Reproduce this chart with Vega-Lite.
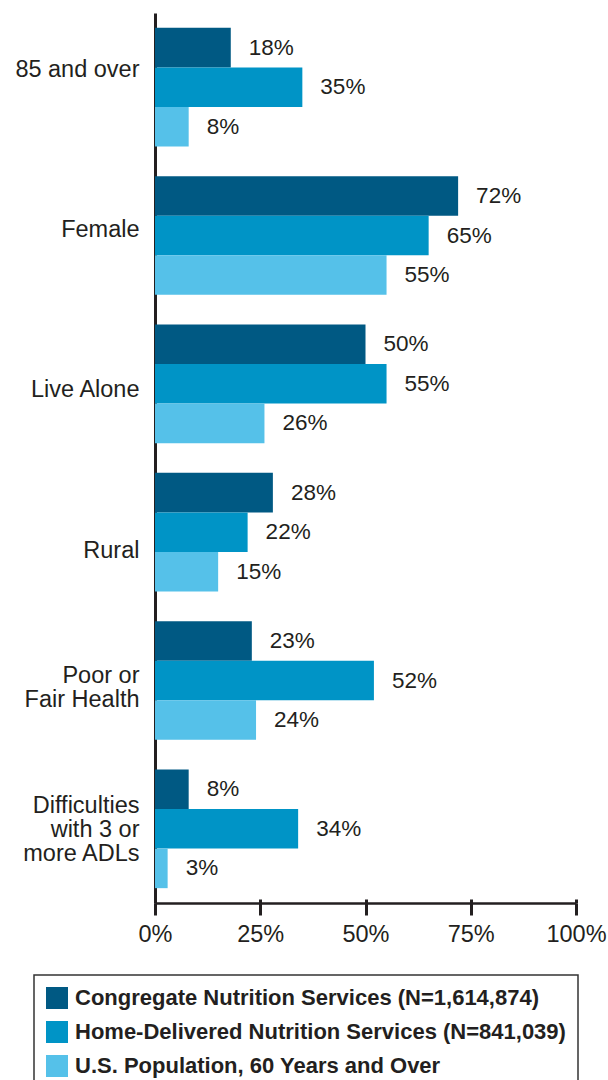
{
  "$schema": "https://vega.github.io/schema/vega-lite/v6.json",
  "width": 421,
  "height": 890,
  "autosize": {"type": "none"},
  "padding": {"left": 155, "top": 13, "right": 32, "bottom": 177},
  "background": "white",
  "config": {
    "view": {"stroke": null},
    "font": "Liberation Sans"
  },
  "resolve": {"axis": {"x": "independent"}},
  "data": {
    "values": [
      {"cat": "85 and over", "series": "Congregate Nutrition Services (N=1,614,874)", "value": 18},
      {"cat": "85 and over", "series": "Home-Delivered Nutrition Services (N=841,039)", "value": 35},
      {"cat": "85 and over", "series": "U.S. Population, 60 Years and Over", "value": 8},
      {"cat": "Female", "series": "Congregate Nutrition Services (N=1,614,874)", "value": 72},
      {"cat": "Female", "series": "Home-Delivered Nutrition Services (N=841,039)", "value": 65},
      {"cat": "Female", "series": "U.S. Population, 60 Years and Over", "value": 55},
      {"cat": "Live Alone", "series": "Congregate Nutrition Services (N=1,614,874)", "value": 50},
      {"cat": "Live Alone", "series": "Home-Delivered Nutrition Services (N=841,039)", "value": 55},
      {"cat": "Live Alone", "series": "U.S. Population, 60 Years and Over", "value": 26},
      {"cat": "Rural", "series": "Congregate Nutrition Services (N=1,614,874)", "value": 28},
      {"cat": "Rural", "series": "Home-Delivered Nutrition Services (N=841,039)", "value": 22},
      {"cat": "Rural", "series": "U.S. Population, 60 Years and Over", "value": 15},
      {"cat": "Poor or|Fair Health", "series": "Congregate Nutrition Services (N=1,614,874)", "value": 23},
      {"cat": "Poor or|Fair Health", "series": "Home-Delivered Nutrition Services (N=841,039)", "value": 52},
      {"cat": "Poor or|Fair Health", "series": "U.S. Population, 60 Years and Over", "value": 24},
      {"cat": "Difficulties|with 3 or|more ADLs", "series": "Congregate Nutrition Services (N=1,614,874)", "value": 8},
      {"cat": "Difficulties|with 3 or|more ADLs", "series": "Home-Delivered Nutrition Services (N=841,039)", "value": 34},
      {"cat": "Difficulties|with 3 or|more ADLs", "series": "U.S. Population, 60 Years and Over", "value": 3}
    ]
  },
  "encoding": {
    "y": {
      "field": "cat",
      "type": "nominal",
      "sort": null,
      "scale": {"paddingInner": 0.2, "paddingOuter": 0.1},
      "axis": {
        "title": null,
        "ticks": false,
        "domainColor": "#231f20",
        "domainWidth": 3,
        "labelExpr": "split(datum.value, '|')",
        "labelFont": "Liberation Sans",
        "labelFontSize": 23.5,
        "labelColor": "#231f20",
        "labelPadding": 16,
        "labelLineHeight": 24,
        "labelLimit": 0,
        "labelOffset": {
          "condition": [
            {"test": "datum.value == '85 and over'", "value": -17},
            {"test": "datum.value == 'Female'", "value": -6},
            {"test": "datum.value == 'Live Alone'", "value": 6},
            {"test": "datum.value == 'Rural'", "value": 19},
            {"test": "datum.value == 'Poor or|Fair Health'", "value": -5},
            {"test": "datum.value == 'Difficulties|with 3 or|more ADLs'", "value": -23}
          ],
          "value": 0
        }
      }
    },
    "yOffset": {
      "field": "series",
      "type": "nominal",
      "sort": null,
      "scale": {"paddingInner": 0, "paddingOuter": 0}
    }
  },
  "layer": [
    {
      "mark": {"type": "bar"},
      "encoding": {
        "x": {
          "field": "value",
          "type": "quantitative",
          "scale": {"domain": [0, 100], "nice": false},
          "axis": {
            "title": null,
            "orient": "bottom",
            "values": [0, 25, 50, 75, 100],
            "labelExpr": "datum.value + '%'",
            "grid": false,
            "domainColor": "#231f20",
            "domainWidth": 2.5,
            "tickColor": "#231f20",
            "tickWidth": 3,
            "tickSize": 12,
            "labelFont": "Liberation Sans",
            "labelFontSize": 23.5,
            "labelColor": "#231f20",
            "labelPadding": 7,
            "labelFlush": false
          }
        },
        "color": {
          "field": "series",
          "type": "nominal",
          "sort": null,
          "scale": {"range": ["#005983", "#0094c6", "#55c1e9"]},
          "legend": {
            "title": null,
            "orient": "none",
            "legendX": -121,
            "legendY": 962,
            "direction": "vertical",
            "symbolType": "square",
            "symbolSize": 484,
            "symbolStrokeWidth": 0,
            "labelFont": "Liberation Sans",
            "labelFontSize": 22,
            "labelFontWeight": "bold",
            "labelColor": "#231f20",
            "labelLimit": 0,
            "labelOffset": 7,
            "rowPadding": 12,
            "padding": 12,
            "strokeColor": "#333333",
            "encode": {"legend": {"update": {"strokeWidth": {"value": 1.5}}}}
          }
        }
      }
    },
    {
      "mark": {
        "type": "text",
        "align": "left",
        "baseline": "middle",
        "dx": 18,
        "font": "Liberation Sans",
        "fontSize": 22.5,
        "color": "#231f20",
        "text": {"expr": "datum.value + '%'"}
      },
      "encoding": {
        "x": {
          "field": "value",
          "type": "quantitative",
          "scale": {"domain": [0, 100], "nice": false},
          "axis": {
            "title": null,
            "orient": "bottom",
            "values": [0, 25, 50, 75, 100],
            "labels": false,
            "domain": false,
            "grid": false,
            "tickColor": "#231f20",
            "tickWidth": 3,
            "tickSize": -4
          }
        },
        "detail": {"field": "series"}
      }
    }
  ]
}
